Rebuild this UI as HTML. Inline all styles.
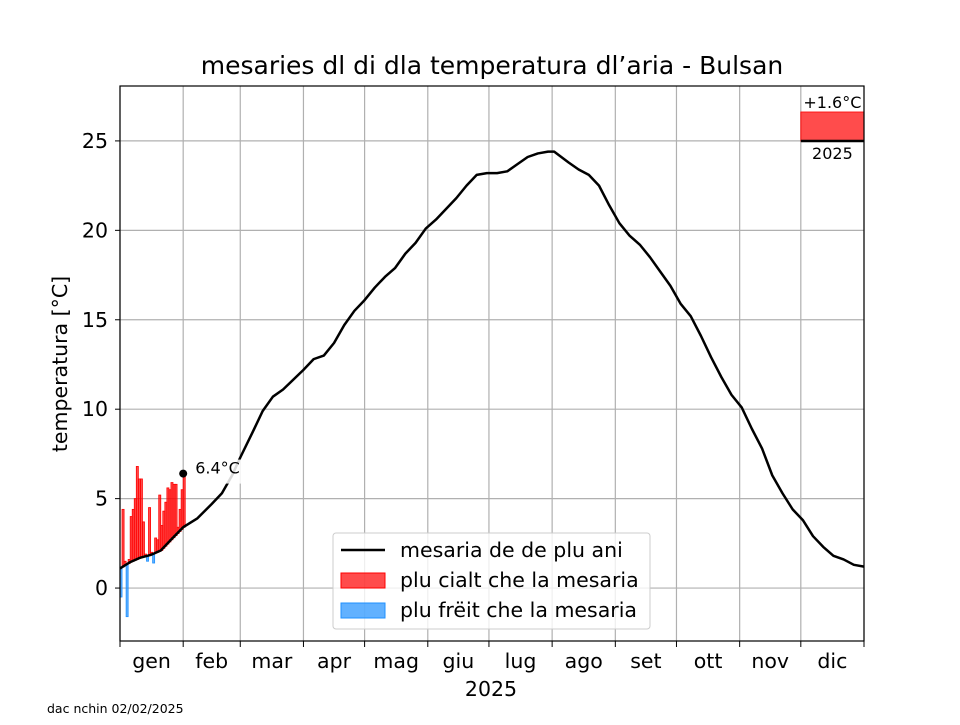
<!DOCTYPE html>
<html><head><meta charset="utf-8"><style>
body{margin:0;background:#fff;}
svg text{font-family:"DejaVu Sans","Liberation Sans",sans-serif;}
</style></head><body>
<svg id="chart" width="960" height="720" viewBox="0 0 960 720" xmlns="http://www.w3.org/2000/svg">
<rect width="960" height="720" fill="#fff"/>
<g id="grid"></g>
<g id="marks"></g>
<g id="axes"></g>
<text x="492" y="74" text-anchor="middle" font-size="25">mesaries dl di dla temperatura dl’aria - Bulsan</text>
<text x="67" y="364" text-anchor="middle" font-size="20.5" transform="rotate(-90 67 364)">temperatura [°C]</text>
<text x="491" y="696" text-anchor="middle" font-size="20.5">2025</text>
<text x="47" y="713" font-size="12.5">dac nchin 02/02/2025</text>
<g>
<rect x="333" y="533" width="317" height="96" rx="3" fill="#fff" fill-opacity="0.8" stroke="#ccc"/>
<line x1="341" y1="550" x2="385" y2="550" stroke="#000" stroke-width="2.5"/>
<text x="400" y="557" font-size="20.5">mesaria de de plu ani</text>
<rect x="341" y="573" width="44" height="15" fill="rgba(255,0,0,0.7)" stroke="red"/>
<text x="400" y="587" font-size="20.5">plu cialt che la mesaria</text>
<rect x="341" y="603" width="44" height="15" fill="rgba(30,144,255,0.7)" stroke="#1e90ff"/>
<text x="400" y="617" font-size="20.5">plu frëit che la mesaria</text>
</g>
</svg>
<script>
const climDays=[0,5,10,15,20,25,31,38,45,50,55,59,65,70,75,80,90,95,100,105,110,115,120,125,130,135,140,145,150,155,160,165,170,175,180,185,190,195,200,205,210,213,220,225,230,235,240,245,250,255,260,265,270,275,280,285,290,295,300,305,310,315,320,325,330,335,340,345,350,355,360,365];
const climVals=[1.1,1.45,1.7,1.85,2.1,2.7,3.4,3.9,4.7,5.3,6.3,7.3,8.7,9.9,10.7,11.1,12.2,12.8,13.0,13.7,14.7,15.5,16.1,16.8,17.4,17.9,18.7,19.3,20.1,20.6,21.2,21.8,22.5,23.1,23.2,23.2,23.3,23.7,24.1,24.3,24.4,24.4,23.8,23.4,23.1,22.5,21.4,20.4,19.7,19.2,18.5,17.7,16.9,15.9,15.2,14.1,12.9,11.8,10.8,10.1,8.9,7.8,6.3,5.3,4.4,3.8,2.9,2.3,1.8,1.6,1.3,1.2];
const dailyVals=[-0.5,4.4,1.5,-1.6,1.6,4.0,4.4,5.0,6.8,6.1,6.1,3.7,1.9,1.5,4.5,2.0,1.4,2.8,2.7,5.2,3.5,4.3,4.8,5.6,5.5,5.9,5.8,5.8,3.4,4.4,5.5,6.4];
const yTicks=[0,5,10,15,20,25];
const monthLabels=["gen","feb","mar","apr","mag","giu","lug","ago","set","ott","nov","dic"];
const monthStarts=[0,31,59,90,120,151,181,212,243,273,304,334,365];
const anomalyLabel="+1.6°C";
const anomalyVal=1.6;
const yearLabel="2025";

const NS="http://www.w3.org/2000/svg";
const L=120,R=864,T=86,B=641,YMIN=-2.96,YMAX=28.07;
const x=d=>L+(R-L)*d/365;
const y=v=>B-(B-T)*(v-YMIN)/(YMAX-YMIN);
function mk(tag,attrs,parent){const e=document.createElementNS(NS,tag);for(const k in attrs)e.setAttribute(k,attrs[k]);parent.appendChild(e);return e;}
function clim(d){for(let i=0;i<climDays.length-1;i++){if(d<=climDays[i+1]){const t=(d-climDays[i])/(climDays[i+1]-climDays[i]);return climVals[i]+t*(climVals[i+1]-climVals[i]);}}return climVals[climVals.length-1];}
const grid=document.getElementById('grid'),marks=document.getElementById('marks'),axes=document.getElementById('axes');
yTicks.forEach(v=>{
 const g=mk('line',{x1:L,x2:R,y1:y(v),y2:y(v),stroke:'#b0b0b0','stroke-width':1.2},grid);
 
 
 const t=mk('line',{x1:L-5,x2:L,y1:y(v),y2:y(v),stroke:'#000','stroke-width':1},axes);
 
 
 const tx=mk('text',{x:L-12,y:y(v)+7,'text-anchor':'end','font-size':20.5},axes);tx.textContent=v;
 
 
});
monthStarts.forEach(d=>{
 const g=mk('line',{x1:x(d),x2:x(d),y1:T,y2:B,stroke:'#b0b0b0','stroke-width':1.2},grid);
 
 
 const t=mk('line',{x1:x(d),x2:x(d),y1:B,y2:B+6,stroke:'#000','stroke-width':1},axes);
 
 
});
monthLabels.forEach((m,i)=>{
 const tx=mk('text',{x:(x(monthStarts[i])+x(monthStarts[i+1]))/2,y:668,'text-anchor':'middle','font-size':20.5},axes);tx.textContent=m;
 
 
});
dailyVals.forEach((v,d)=>{
 const c=clim(d),w=x(d+1)-x(d);
 const r=mk('rect',{x:x(d),width:w,y:Math.min(y(v),y(c)),height:Math.abs(y(v)-y(c)),fill:v>=c?'rgba(255,0,0,0.7)':'rgba(30,144,255,0.7)',stroke:v>=c?'red':'#1e90ff','stroke-width':0.8},marks);
 
 
});
const pts=climDays.map((d,i)=>x(d)+','+y(climVals[i])).join(' ');
const pl=mk('polyline',{points:pts,fill:'none',stroke:'#000','stroke-width':2.5,'stroke-linejoin':'round'},marks);


const ld=dailyVals.length-1,lv=dailyVals[ld];
const dot=mk('circle',{cx:x(ld),cy:y(lv),r:4,fill:'#000'},marks);


const bg=mk('rect',{x:x(ld)+10,y:y(lv)-14,width:56,height:24,fill:'#fff','fill-opacity':0.85},marks);


const lt=mk('text',{x:x(ld)+12,y:y(lv)+0,'font-size':16},marks);lt.textContent=lv.toFixed(1)+'°C';


const ax0=x(334),ax1=R,base=141,ph=(y(0)-y(anomalyVal))*(29/28.6);
const ar=mk('rect',{x:ax0,y:base-ph,width:ax1-ax0,height:ph,fill:'rgba(255,0,0,0.7)',stroke:'red','stroke-width':0.8},marks);


const al=mk('line',{x1:ax0,x2:ax1,y1:base,y2:base,stroke:'#000','stroke-width':2.5},marks);


const at=mk('text',{x:(ax0+ax1)/2,y:base-ph-4,'text-anchor':'middle','font-size':16},marks);at.textContent=anomalyLabel;


const yt=mk('text',{x:(ax0+ax1)/2,y:base+18,'text-anchor':'middle','font-size':16},marks);yt.textContent=yearLabel;


const frame=mk('rect',{x:L,y:T,width:R-L,height:B-T,fill:'none',stroke:'#000','stroke-width':1.2},axes);


</script>
</body></html>
